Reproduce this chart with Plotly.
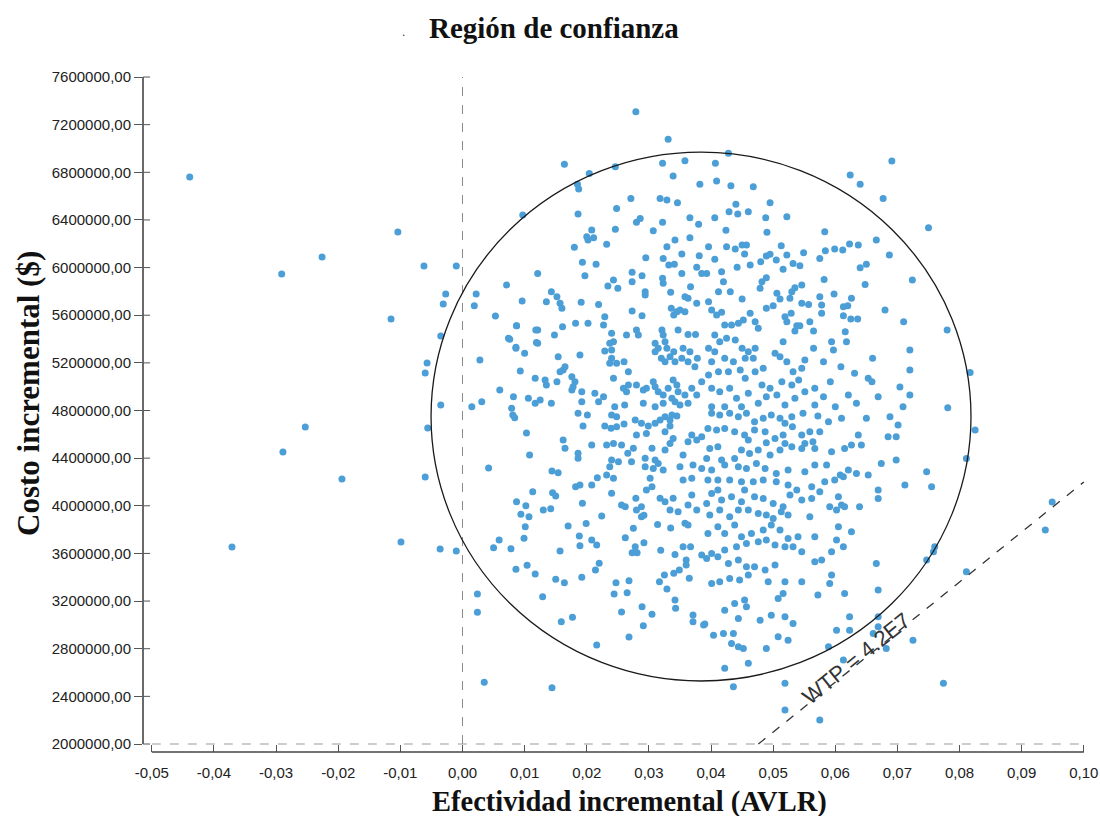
import plotly.graph_objects as go

# Each point: (incremental effectiveness x 1000, incremental cost / 1000)
puntos_fuera_izq = [
    (-43.9, 6760), (-29.1, 5946), (-22.6, 6089), (-10.4, 6299), (-11.5, 5568), (-6.2, 6013),
    (-1.0, 6013), (-2.7, 5778), (-3.1, 5694), (-3.5, 5425), (-5.7, 5199), (-6.0, 5115),
    (-3.5, 4846), (-5.6, 4653), (-25.3, 4662), (-28.9, 4452), (-19.4, 4225), (-6.0, 4242),
    (-37.1, 3654), (-9.9, 3696), (-3.6, 3637), (-1.0, 3620),
]

puntos_fuera_der = [(94.9, 4032), (93.8, 3797)]

puntos_sup_izq = [
    (27.9, 7309), (33.1, 7077), (32.2, 6875), (35.8, 6898), (33.9, 6769), (38.2, 6699), (24.6, 6847),
    (20.4, 6791), (16.4, 6867), (18.5, 6699), (18.7, 6660), (9.7, 6441), (18.6, 6450), (24.8, 6497),
    (27.1, 6581), (31.8, 6581), (32.9, 6567), (34.6, 6545), (28.0, 6380), (28.6, 6413), (32.2, 6380),
    (36.6, 6419), (38.0, 6363), (24.6, 6321), (20.8, 6315), (20.0, 6259), (20.2, 6231), (21.1, 6251),
    (23.2, 6195), (18.0, 6170), (30.7, 6310), (34.2, 6231), (32.9, 6175), (36.6, 6251), (35.3, 6114),
    (29.5, 6083), (32.3, 6077), (33.2, 6021), (34.1, 6027), (38.1, 6100), (37.7, 6002), (19.3, 6044),
    (21.5, 6027), (19.7, 5932), (12.1, 5951), (24.3, 5896), (23.4, 5845), (25.0, 5826), (27.3, 5960),
    (27.3, 5882), (28.9, 5932), (32.2, 5910), (32.3, 5868), (29.4, 5798), (29.4, 5770), (33.5, 5792),
    (35.3, 5951), (38.5, 5951), (36.7, 5840), (36.3, 5742), (35.8, 5756), (37.7, 5700), (7.1, 5854),
    (2.2, 5778), (1.9, 5680), (9.6, 5719), (13.5, 5714), (14.3, 5798), (15.2, 5756), (15.7, 5700),
    (16.0, 5658), (19.1, 5708), (21.9, 5691), (22.9, 5588), (22.7, 5518), (27.3, 5635), (28.9, 5596),
    (5.3, 5593), (8.7, 5512), (12.1, 5476), (11.9, 5372), (14.8, 5434), (16.1, 5504), (18.2, 5532),
    (20.2, 5532), (24.0, 5448), (24.3, 5378), (24.0, 5308), (22.9, 5300), (26.4, 5434), (28.0, 5476),
    (28.3, 5434), (32.1, 5476), (32.3, 5434), (32.6, 5378), (32.9, 5322), (34.0, 5294), (34.7, 5476),
    (36.3, 5439), (37.5, 5439), (34.5, 5630), (35.0, 5644), (34.0, 5602), (33.6, 5658), (35.8, 5630),
    (31.0, 5364), (31.5, 5322), (31.0, 5294), (32.0, 5238), (32.6, 5210), (33.4, 5252), (34.2, 5210),
    (35.5, 5322), (35.3, 5238), (36.6, 5294), (36.3, 5210), (37.8, 5238), (37.4, 5168), (7.4, 5406),
    (8.6, 5322), (10.0, 5280), (12.1, 5364), (15.4, 5252), (15.7, 5126), (16.2, 5140), (16.5, 5168),
    (18.9, 5266), (23.7, 5364), (24.0, 5238), (23.7, 5196), (24.8, 5196), (26.0, 5210), (26.7, 5126),
    (24.3, 5070), (2.8, 5224), (9.3, 5132), (11.7, 5070), (13.3, 5056), (13.5, 5014), (17.6, 5084),
    (18.1, 5042), (17.8, 5000), (15.2, 5042), (6.0, 4972), (8.2, 4916), (10.6, 4902), (12.5, 4888),
    (17.6, 4972), (19.2, 4958), (21.3, 4944), (22.7, 4916), (25.9, 4986), (26.7, 5014), (26.4, 4958),
    (28.0, 5014), (29.1, 4972), (29.6, 4986), (30.7, 5042), (31.0, 5000), (31.5, 4958), (32.3, 4930),
    (33.1, 4986), (33.9, 5056), (34.5, 5014), (34.7, 4958), (33.7, 4902), (34.2, 4874), (35.0, 4846),
    (35.8, 4930), (36.3, 4860), (36.9, 4986), (37.7, 4930), (38.5, 5042), (24.5, 4832), (26.1, 4846),
    (29.1, 4860), (31.0, 4832), (32.3, 4860), (1.5, 4832), (3.1, 4874), (7.9, 4818), (11.7, 4860),
    (14.3, 4860), (19.2, 4874), (21.9, 4874), (8.7, 5512), (7.6, 5398), (8.6, 5331), (11.8, 5476),
]

puntos_sup_der = [
    (42.8, 6959), (40.7, 6875), (40.9, 6727), (43.2, 6688), (46.8, 6679), (44.0, 6531), (49.5, 6545),
    (42.9, 6469), (44.3, 6450), (46.0, 6469), (40.6, 6419), (48.8, 6419), (52.2, 6427), (42.4, 6313),
    (49.0, 6296), (58.3, 6301), (62.4, 6777), (64.0, 6699), (69.1, 6895), (67.7, 6581), (75.0, 6335),
    (39.6, 6175), (42.5, 6175), (43.9, 6156), (45.0, 6189), (45.7, 6189), (45.4, 6114), (40.6, 6069),
    (44.2, 6002), (46.3, 6021), (48.0, 6049), (48.9, 6097), (49.5, 6111), (50.5, 6063), (51.3, 6184),
    (52.2, 6105), (51.6, 5985), (53.2, 6035), (54.3, 6016), (54.9, 6125), (57.5, 6077), (58.4, 6142),
    (59.9, 6156), (61.2, 6147), (62.3, 6198), (63.7, 6189), (66.6, 6231), (68.7, 6106), (65.0, 6027),
    (64.0, 5999), (58.2, 5901), (64.8, 5859), (72.4, 5896), (68.0, 5644), (71.0, 5546), (78.0, 5476),
    (41.7, 5965), (42.0, 5881), (39.3, 5951), (41.2, 5798), (43.1, 5798), (45.0, 5736), (48.2, 5881),
    (48.9, 5915), (47.9, 5826), (50.6, 5784), (51.1, 5736), (53.0, 5798), (53.5, 5831), (52.7, 5742),
    (54.6, 5854), (54.6, 5700), (55.7, 5691), (57.5, 5756), (57.8, 5686), (57.8, 5616), (59.8, 5778),
    (61.3, 5672), (62.0, 5680), (62.6, 5742), (61.3, 5596), (62.5, 5568), (63.6, 5568), (61.6, 5462),
    (61.8, 5378), (39.6, 5714), (40.1, 5644), (40.9, 5602), (41.7, 5624), (42.2, 5518), (43.3, 5518),
    (44.4, 5532), (45.2, 5560), (46.3, 5616), (47.1, 5546), (47.6, 5490), (48.9, 5658), (50.0, 5680),
    (51.9, 5588), (52.2, 5546), (52.9, 5616), (53.8, 5512), (53.5, 5467), (54.3, 5512), (55.9, 5546),
    (56.5, 5467), (59.4, 5378), (59.7, 5308), (58.1, 5210), (56.5, 5322), (55.1, 5224), (40.6, 5434),
    (41.4, 5378), (42.5, 5406), (43.9, 5392), (45.0, 5322), (46.0, 5294), (47.1, 5322), (39.6, 5322),
    (40.6, 5294), (40.1, 5210), (42.2, 5238), (43.6, 5210), (45.5, 5238), (46.8, 5238), (48.4, 5154),
    (50.3, 5280), (51.1, 5252), (51.6, 5378), (52.2, 5210), (53.2, 5126), (54.6, 5154), (39.6, 5098),
    (41.2, 5126), (42.8, 5126), (44.7, 5140), (45.5, 5070), (47.1, 5126), (48.2, 5014), (49.5, 4986),
    (50.6, 4930), (51.4, 5042), (53.0, 5014), (54.1, 5056), (55.1, 4958), (56.7, 4986), (58.1, 4916),
    (59.2, 5042), (60.9, 5168), (63.1, 5112), (65.3, 5070), (65.9, 5042), (66.0, 5238), (70.4, 4998),
    (72.0, 5308), (72.0, 5140), (72.0, 4930), (66.9, 4916), (62.1, 4930), (63.4, 4860), (70.9, 4832),
    (78.1, 4824), (81.7, 5120), (40.1, 4986), (41.4, 4958), (43.0, 4986), (44.1, 4902), (46.0, 4944),
    (47.6, 4860), (48.9, 4916), (51.9, 4846), (53.5, 4902), (56.7, 4846), (60.0, 4832), (40.1, 4832),
    (42.2, 4832), (44.9, 4832),
]

puntos_inf_izq = [
    (4.2, 4318), (10.3, 4611), (10.8, 4426), (8.1, 4762), (8.4, 4740), (16.2, 4552), (16.5, 4483),
    (18.6, 4441), (18.6, 4399), (19.4, 4670), (18.6, 4777), (20.1, 4762), (14.4, 4292), (15.4, 4278),
    (11.3, 4118), (14.5, 4110), (15.0, 4082), (8.7, 4034), (10.2, 4001), (9.4, 3929), (10.7, 3908),
    (13.0, 3965), (14.2, 3976), (10.1, 3824), (9.9, 3727), (5.9, 3713), (5.0, 3648), (7.8, 3640),
    (8.6, 3467), (10.4, 3500), (11.7, 3427), (15.7, 3620), (15.0, 3383), (16.4, 3354), (12.9, 3237),
    (2.4, 3259), (2.4, 3106), (17.0, 3830), (18.8, 3746), (18.9, 3665), (19.9, 3852), (19.3, 4021),
    (20.8, 3713), (21.6, 3671), (22.0, 3517), (21.4, 3461), (19.2, 3399), (15.9, 3027), (17.7, 3064),
    (21.6, 2831), (3.5, 2518), (14.4, 2473), (18.2, 4160), (18.9, 4175), (20.8, 4175), (21.7, 4236),
    (22.4, 3914), (24.0, 4105), (23.2, 4258), (24.3, 4231), (25.6, 4007), (26.2, 3992), (27.9, 4063),
    (28.0, 3965), (28.8, 3992), (28.8, 3908), (29.2, 3920), (27.5, 3811), (26.2, 3732), (27.8, 3656),
    (28.1, 3606), (27.3, 3606), (29.2, 3690), (24.7, 3354), (24.4, 3259), (26.5, 3270), (26.8, 3371),
    (25.6, 3108), (26.8, 2898), (28.9, 3153), (29.1, 2993), (30.5, 3089), (31.4, 3842), (31.9, 3626),
    (33.5, 3813), (34.2, 3592), (32.5, 3418), (31.7, 3362), (32.9, 3301), (34.0, 3433), (34.9, 3461),
    (35.5, 3656), (36.7, 3656), (36.0, 3545), (36.0, 3503), (36.5, 3391), (34.2, 3209), (34.3, 3139),
    (37.1, 3083), (37.1, 3027), (38.8, 2999), (38.5, 3587), (22.9, 4670), (23.9, 4651), (24.8, 4664),
    (26.0, 4687), (27.8, 4720), (28.8, 4693), (29.9, 4670), (31.0, 4693), (31.8, 4720), (32.6, 4748),
    (33.7, 4762), (34.5, 4754), (33.4, 4670), (24.0, 4762), (24.8, 4748), (23.2, 4510), (24.3, 4524),
    (25.6, 4510), (27.5, 4483), (26.6, 4441), (24.0, 4384), (25.1, 4370), (27.2, 4370), (23.7, 4328),
    (20.8, 4510), (28.0, 4594), (29.6, 4608), (30.5, 4483), (32.6, 4469), (29.4, 4399), (31.0, 4384),
    (29.4, 4328), (30.7, 4314), (31.5, 4356), (32.3, 4300), (30.2, 4231), (30.5, 4160), (29.6, 4133),
    (31.8, 4063), (32.6, 4034), (33.9, 4063), (33.4, 3965), (34.7, 3951), (35.5, 4426), (35.0, 4328),
    (36.3, 4538), (36.9, 4594), (37.7, 4552), (38.5, 4580), (37.1, 4342), (38.5, 4314), (35.5, 4217),
    (36.9, 4231), (36.9, 4091), (36.3, 4007), (37.7, 3965), (35.8, 3853), (36.3, 3839), (33.4, 4524),
    (33.9, 4566), (32.6, 4622), (33.4, 4720),
]

puntos_inf_der = [
    (40.1, 4776), (41.4, 4762), (43.0, 4776), (44.4, 4748), (45.7, 4776), (47.0, 4706), (48.4, 4734),
    (49.7, 4762), (51.1, 4734), (51.9, 4692), (53.0, 4748), (54.8, 4776), (57.2, 4754), (58.9, 4706),
    (61.0, 4734), (65.0, 4734), (68.8, 4748), (70.1, 4678), (39.5, 4650), (40.9, 4636), (42.2, 4650),
    (43.8, 4622), (45.4, 4594), (47.0, 4636), (48.7, 4622), (50.3, 4566), (51.6, 4594), (53.1, 4664),
    (54.6, 4594), (55.9, 4622), (57.5, 4622), (56.4, 4538), (55.1, 4524), (51.9, 4524), (48.9, 4530),
    (46.0, 4552), (63.7, 4594), (68.5, 4580), (69.8, 4580), (82.5, 4636), (39.8, 4482), (41.1, 4496),
    (44.9, 4468), (46.2, 4440), (47.6, 4468), (49.5, 4426), (51.1, 4468), (53.0, 4496), (54.6, 4482),
    (56.7, 4482), (59.4, 4454), (61.5, 4482), (62.6, 4510), (64.2, 4510), (67.4, 4356), (69.8, 4384),
    (81.1, 4398), (39.3, 4398), (41.7, 4384), (43.8, 4398), (40.1, 4300), (42.2, 4342), (44.4, 4328),
    (45.7, 4314), (47.3, 4356), (48.7, 4314), (50.5, 4272), (52.4, 4300), (55.1, 4286), (56.7, 4342),
    (58.6, 4342), (60.8, 4258), (62.1, 4300), (63.4, 4272), (65.3, 4258), (74.7, 4286), (39.5, 4216),
    (41.1, 4216), (43.0, 4216), (44.9, 4202), (46.8, 4202), (48.4, 4216), (50.5, 4202), (52.4, 4174),
    (53.8, 4132), (56.2, 4160), (58.3, 4202), (59.9, 4216), (61.3, 4244), (66.9, 4132), (71.2, 4174),
    (75.5, 4160), (41.1, 4132), (45.4, 4132), (40.1, 4104), (41.7, 4048), (43.3, 4076), (44.9, 4034),
    (47.0, 4076), (48.4, 4062), (50.0, 4020), (51.6, 3992), (52.7, 4090), (54.6, 4048), (56.2, 4062),
    (57.5, 4118), (59.1, 3992), (60.5, 4076), (61.5, 3992), (63.9, 3992), (66.9, 4062), (39.3, 4020),
    (39.8, 3922), (41.4, 3964), (43.0, 3908), (44.4, 3964), (46.0, 3964), (47.6, 3936), (48.9, 3922),
    (50.0, 3894), (51.3, 3950), (52.4, 3922), (55.9, 3908), (60.2, 3964), (61.0, 4006), (39.5, 3768),
    (41.1, 3824), (42.2, 3768), (43.8, 3838), (44.9, 3740), (46.5, 3768), (48.4, 3796), (49.7, 3838),
    (51.1, 3796), (52.4, 3726), (54.0, 3740), (56.7, 3740), (60.5, 3824), (62.6, 3782), (60.2, 3712),
    (40.1, 3600), (42.2, 3628), (44.1, 3656), (45.7, 3684), (47.6, 3698), (48.9, 3712), (50.3, 3670),
    (51.9, 3656), (53.2, 3656), (54.6, 3614), (56.7, 3530), (57.8, 3544), (59.4, 3614), (61.3, 3656),
    (76.0, 3656), (75.8, 3614), (74.7, 3544), (39.3, 3558), (41.1, 3572), (42.8, 3516), (44.4, 3544),
    (45.7, 3488), (47.0, 3488), (48.7, 3460), (50.3, 3502), (59.4, 3418), (66.6, 3516), (81.1, 3446),
    (40.1, 3348), (41.4, 3362), (43.0, 3390), (44.6, 3376), (46.0, 3418), (49.2, 3362), (51.9, 3362),
    (54.6, 3362), (59.1, 3348), (61.5, 3264), (66.9, 3292), (57.2, 3250), (51.6, 3264), (50.8, 3222),
    (43.8, 3180), (45.4, 3208), (45.7, 3152), (42.2, 3124), (44.4, 3054), (47.9, 3040), (49.7, 3082),
    (51.9, 3068), (53.2, 3012), (62.3, 3068), (66.9, 3068), (66.9, 2984), (40.4, 2914), (42.0, 2928),
    (43.6, 2928), (43.3, 2844), (44.4, 2816), (45.2, 2802), (48.9, 2802), (50.8, 2900), (52.4, 2872),
    (58.9, 2816), (60.2, 2956), (62.3, 2956), (66.1, 2928), (68.2, 2802), (72.5, 2872), (42.2, 2635),
    (46.0, 2677), (51.9, 2509), (61.3, 2705), (43.6, 2481), (77.4, 2509), (51.9, 2285), (57.5, 2201),
    (39.0, 3008),
]

x_ticks = [-0.05, -0.04, -0.03, -0.02, -0.01, 0.0, 0.01, 0.02, 0.03, 0.04, 0.05, 0.06, 0.07, 0.08, 0.09, 0.10]
x_tick_text = ["-0,05", "-0,04", "-0,03", "-0,02", "-0,01", "0,00", "0,01", "0,02", "0,03", "0,04",
               "0,05", "0,06", "0,07", "0,08", "0,09", "0,10"]
y_ticks = [2000000, 2400000, 2800000, 3200000, 3600000, 4000000, 4400000, 4800000,
           5200000, 5600000, 6000000, 6400000, 6800000, 7200000, 7600000]
y_tick_text = ["2000000,00", "2400000,00", "2800000,00", "3200000,00", "3600000,00", "4000000,00",
               "4400000,00", "4800000,00", "5200000,00", "5600000,00", "6000000,00", "6400000,00",
               "6800000,00", "7200000,00", "7600000,00"]

wtp = 4.2e7
wtp_etiqueta = "WTP = 4.2E7"
elipse_centro_x, elipse_centro_y = 0.03839, 4749500
elipse_radio_x, elipse_radio_y = 0.04345, 2220500

x_min, x_max = -0.05, 0.10
y_min, y_max = 2000000, 7600000

todos = puntos_fuera_izq + puntos_sup_izq + puntos_sup_der + puntos_inf_izq + puntos_inf_der + puntos_fuera_der
efectividad = [p[0] / 1000 for p in todos]
costo = [p[1] * 1000 for p in todos]

fig = go.Figure()

fig.add_trace(go.Scatter(
    x=efectividad, y=costo, mode="markers",
    marker=dict(color="#4C9ED6", size=7, line=dict(width=0)),
    showlegend=False, hoverinfo="x+y",
))

wtp_x = [y_min / wtp, x_max]
wtp_y = [wtp * v for v in wtp_x]
fig.add_trace(go.Scatter(
    x=wtp_x, y=wtp_y, mode="lines",
    line=dict(color="#333333", width=1.3, dash="dash"),
    showlegend=False, hoverinfo="skip",
))

shapes = [
    dict(type="line", xref="x", yref="y", x0=0, x1=0, y0=y_min, y1=y_max,
         line=dict(color="#8a8a8a", width=1, dash="dash"), layer="below"),
    dict(type="line", xref="x", yref="y", x0=x_min, x1=x_max, y0=y_min, y1=y_min,
         line=dict(color="#9a9a9a", width=1, dash="dash"), layer="below"),
    dict(type="line", xref="x", yref="paper", x0=x_min, x1=x_max, y0=0, y1=0,
         line=dict(color="#444444", width=1.6)),
    dict(type="line", xref="paper", yref="y", x0=0, x1=0, y0=y_min, y1=y_max,
         line=dict(color="#444444", width=1.6)),
    dict(type="circle", xref="x", yref="y",
         x0=elipse_centro_x - elipse_radio_x, x1=elipse_centro_x + elipse_radio_x,
         y0=elipse_centro_y - elipse_radio_y, y1=elipse_centro_y + elipse_radio_y,
         line=dict(color="#1a1a1a", width=1.3)),
]
# y ticks in the original cross the axis line: add the inner half
for v in y_ticks:
    shapes.append(dict(type="line", xref="paper", yref="y", x0=0, x1=0.0075, y0=v, y1=v,
                       line=dict(color="#555555", width=1)))

serif = "Liberation Serif, Times New Roman, serif"
sans = "Liberation Sans, Arial, sans-serif"

# plot area in page pixels: x 143..1088, y 75..752
PL, PW, PT, PH = 143, 945, 75, 677
W, H = 1100, 816

annotations = [
    dict(text="<b>Región de confianza</b>", xref="paper", yref="paper", x=(554 - PL) / PW, y=1,
         yshift=PT - 28, showarrow=False, xanchor="center", yanchor="middle",
         font=dict(family=serif, size=29, color="#111111")),
    dict(text=".", xref="paper", yref="paper", x=(403 - PL) / PW, y=1, yshift=PT - 32,
         showarrow=False, xanchor="center", yanchor="middle",
         font=dict(family=sans, size=12, color="#333333")),
    dict(text="<b>Efectividad incremental (AVLR)</b>", xref="paper", yref="paper",
         x=(629 - PL) / PW, y=0, yshift=-(802 - 752), showarrow=False, xanchor="center", yanchor="middle",
         font=dict(family=serif, size=28.5, color="#111111")),
    dict(text="<b>Costo incremental ($)</b>", xref="paper", yref="paper",
         x=0, xshift=28 - PL, y=(752 - 394) / PH, showarrow=False, xanchor="center", yanchor="middle",
         textangle=-90, font=dict(family=serif, size=31, color="#111111")),
    dict(text=wtp_etiqueta, xref="x", yref="y", x=0.0634, y=2715000, showarrow=False,
         textangle=-38.8, xanchor="center", yanchor="middle",
         font=dict(family=sans, size=22, color="#333333")),
]

fig.update_layout(
    width=W, height=H, autosize=False,
    margin=dict(l=PL, r=W - PL - PW, t=PT, b=H - PT - PH, autoexpand=False),
    paper_bgcolor="white", plot_bgcolor="white",
    shapes=shapes, annotations=annotations,
    showlegend=False,
)

fig.update_xaxes(
    range=[-0.05142, 0.10067], showgrid=False, zeroline=False, showline=False, automargin=False,
    tickmode="array", tickvals=x_ticks, ticktext=x_tick_text,
    ticks="inside", ticklen=7, tickcolor="#555555", tickwidth=1,
    ticklabelstandoff=10,
    tickfont=dict(family=sans, size=15, color="#222222"),
)
fig.update_yaxes(
    range=[1932800, 7617000], showgrid=False, zeroline=False, showline=False, automargin=False,
    tickmode="array", tickvals=y_ticks, ticktext=y_tick_text,
    ticks="outside", ticklen=8, tickcolor="#555555", tickwidth=1,
    tickfont=dict(family=sans, size=15, color="#222222"),
)

fig.write_html(
    "out.html",
    config={"displayModeBar": False},
    post_script="document.body.style.margin='0';document.body.style.overflow='hidden';",
)
